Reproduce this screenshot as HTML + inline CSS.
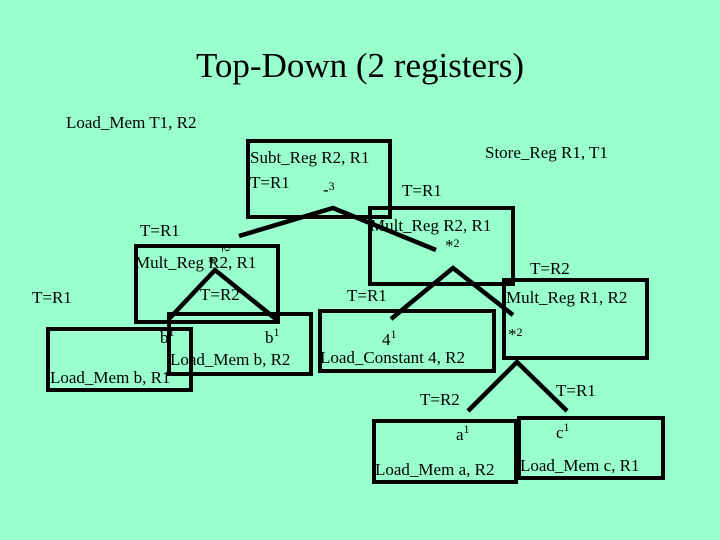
<!DOCTYPE html>
<html><head><meta charset="utf-8"><style>
html,body{margin:0;padding:0;background:#99ffcc;}
svg{display:block}
text{font-family:"Liberation Serif",serif;fill:#000;}
</style></head><body>
<svg width="720" height="540" viewBox="0 0 720 540" xmlns="http://www.w3.org/2000/svg">
<rect width="720" height="540" fill="#99ffcc"/>
<text x="360" y="77" font-size="35" text-anchor="middle">Top-Down (2 registers)</text>
<text x="66" y="128" font-size="17">Load_Mem T1, R2</text>
<text x="485" y="158" font-size="17">Store_Reg R1, T1</text>
<g fill="none" stroke="#000" stroke-width="4">
<rect x="248" y="141" width="142" height="76"/>
<rect x="370" y="208" width="143" height="76"/>
<rect x="136" y="246" width="142" height="76"/>
<rect x="169" y="314" width="142" height="60"/>
<rect x="48" y="329" width="143" height="61"/>
<rect x="320" y="311" width="174" height="60"/>
<rect x="504" y="280" width="143" height="78"/>
<rect x="374" y="421" width="142" height="61"/>
<rect x="519" y="418" width="144" height="60"/>
</g>
<g stroke="#000" stroke-width="4.5" fill="none">
<polyline points="239,236 333,208 436,250"/>
<polyline points="168,320 215,270 277,320"/>
<polyline points="391,319 453,268 513,315"/>
<polyline points="468,411 517,362 567,411"/>
</g>
<g font-size="17">
<text x="250" y="163">Subt_Reg R2, R1</text>
<text x="250" y="188">T=R1</text>
<text x="323" y="195">-<tspan font-size="12" dy="-5">3</tspan></text>
<text x="402" y="196">T=R1</text>
<text x="140" y="236">T=R1</text>
<text x="370" y="231">Mult_Reg R2, R1</text>
<text x="445" y="251">*<tspan font-size="12" dy="-4">2</tspan></text>
<text x="135" y="268">Mult_Reg R2, R1</text>
<text x="208" y="268">*</text>
<text x="222" y="246" font-size="12" transform="rotate(90 222 246)">2</text>
<text x="200" y="300">T=R2</text>
<text x="32" y="303">T=R1</text>
<text x="347" y="301">T=R1</text>
<text x="530" y="274">T=R2</text>
<text x="506" y="303">Mult_Reg R1, R2</text>
<text x="508" y="340">*<tspan font-size="12" dy="-4">2</tspan></text>
<text x="160" y="343">b<tspan font-size="12" dy="-7">1</tspan></text>
<text x="265" y="343">b<tspan font-size="12" dy="-7">1</tspan></text>
<text x="382" y="345">4<tspan font-size="12" dy="-7">1</tspan></text>
<text x="170" y="365">Load_Mem b, R2</text>
<text x="320" y="363">Load_Constant 4, R2</text>
<text x="50" y="383">Load_Mem b, R1</text>
<text x="420" y="405">T=R2</text>
<text x="556" y="396">T=R1</text>
<text x="456" y="440">a<tspan font-size="12" dy="-7">1</tspan></text>
<text x="556" y="438">c<tspan font-size="12" dy="-7">1</tspan></text>
<text x="375" y="475">Load_Mem a, R2</text>
<text x="520" y="471">Load_Mem c, R1</text>
</g>
</svg>
</body></html>
